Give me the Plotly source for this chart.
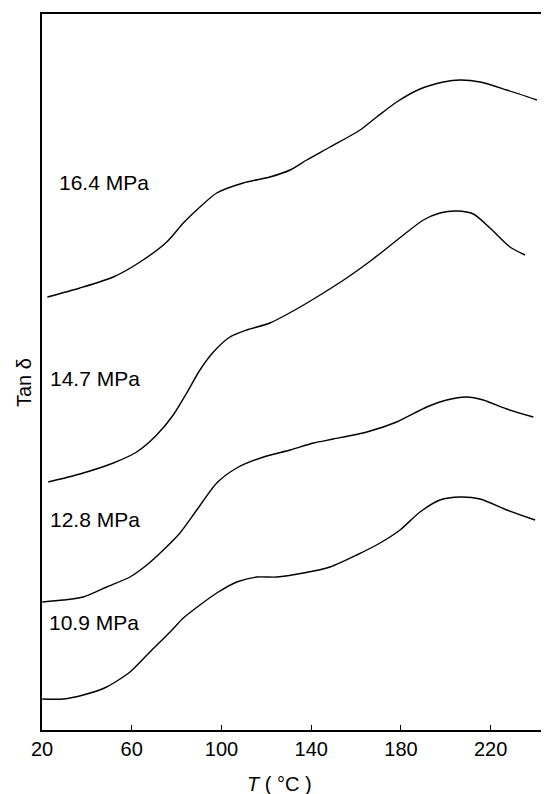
import plotly.graph_objects as go

# Temperature (°C) and Tan δ (arbitrary, vertically offset units) for each stress level
t_164 = [22.4, 36.9, 51.8, 63.7, 75.6, 83.0, 90.4, 97.9, 109.7, 121.6, 130.6, 138.0, 148.4, 161.8, 169.2, 178.1, 188.5, 198.9, 206.4, 215.3, 227.2, 240.6]
y_164 = [4.33, 4.42, 4.53, 4.68, 4.88, 5.07, 5.23, 5.37, 5.47, 5.53, 5.60, 5.70, 5.83, 6.00, 6.13, 6.28, 6.41, 6.48, 6.50, 6.48, 6.40, 6.30]

t_147 = [22.8, 36.9, 51.8, 62.2, 71.1, 78.5, 84.5, 90.4, 96.4, 103.8, 111.3, 121.6, 134.3, 145.4, 155.8, 167.0, 181.1, 190.0, 197.4, 204.9, 212.3, 219.7, 228.6, 235.3]
y_147 = [2.48, 2.56, 2.67, 2.78, 2.95, 3.15, 3.37, 3.60, 3.78, 3.93, 4.00, 4.07, 4.22, 4.37, 4.52, 4.70, 4.95, 5.10, 5.17, 5.19, 5.16, 5.02, 4.83, 4.75]

t_128 = [20.1, 29.5, 38.4, 48.8, 59.2, 66.7, 74.1, 81.5, 89.0, 97.9, 106.8, 118.7, 130.6, 141.0, 149.9, 164.8, 178.1, 191.5, 200.4, 209.3, 216.7, 227.2, 239.0]
y_128 = [1.28, 1.30, 1.33, 1.43, 1.53, 1.65, 1.80, 1.97, 2.20, 2.47, 2.62, 2.73, 2.80, 2.87, 2.91, 2.98, 3.08, 3.23, 3.30, 3.33, 3.30, 3.21, 3.13]

t_109 = [20.1, 29.5, 38.4, 48.8, 59.2, 68.1, 77.1, 83.0, 90.4, 97.9, 106.8, 115.7, 124.6, 136.5, 148.4, 160.3, 170.7, 179.6, 188.5, 197.4, 206.4, 215.3, 227.2, 239.8]
y_109 = [0.31, 0.31, 0.35, 0.43, 0.58, 0.78, 0.98, 1.12, 1.25, 1.37, 1.48, 1.53, 1.53, 1.57, 1.63, 1.75, 1.87, 2.00, 2.18, 2.30, 2.33, 2.31, 2.20, 2.10]

labels = ["16.4 MPa", "14.7 MPa", "12.8 MPa", "10.9 MPa"]
label_x = [26.5, 22.8, 22.8, 22.4]
label_y = [5.48, 3.52, 2.11, 1.08]

x_ticks = [20, 60, 100, 140, 180, 220]

series = [(t_164, y_164), (t_147, y_147), (t_128, y_128), (t_109, y_109)]

fig = go.Figure()
for tx, ty in series:
    fig.add_trace(go.Scatter(x=tx, y=ty, mode="lines",
                             line=dict(color="black", width=1.4, shape="spline", smoothing=0.7),
                             showlegend=False, hoverinfo="skip"))

font = dict(family="Liberation Sans, Arial, sans-serif", size=20, color="black")

for lab, lx, ly in zip(labels, label_x, label_y):
    fig.add_annotation(x=lx, y=ly, xref="x", yref="y", text=lab, showarrow=False,
                       xanchor="left", yanchor="middle", font=dict(font, size=21))

fig.add_annotation(x=-0.0355, y=0.4846, xref="paper", yref="paper", text="Tan δ", showarrow=False,
                   textangle=-90, xanchor="center", yanchor="middle", font=dict(font, size=20))
fig.add_annotation(x=0.4694, y=-0.0754, xref="paper", yref="paper",
                   text="<i>T</i> ( °C )", showarrow=False,
                   xanchor="center", yanchor="middle", font=dict(font, size=20))

fig.update_layout(
    width=541, height=786,
    margin=dict(l=34, r=0, t=6, b=64),
    plot_bgcolor="white", paper_bgcolor="white",
    font=font,
    xaxis=dict(range=[20, 246], tickvals=x_ticks, ticktext=[str(v) for v in x_ticks],
               ticks="inside", ticklen=5, tickwidth=1.2, tickcolor="black",
               showline=True, linecolor="black", linewidth=2, mirror=True,
               showgrid=False, zeroline=False, tickfont=font),
    yaxis=dict(range=[0, 7.16], showticklabels=False, ticks="",
               showline=True, linecolor="black", linewidth=2,
               showgrid=False, zeroline=False),
)

fig.write_html("out.html")
